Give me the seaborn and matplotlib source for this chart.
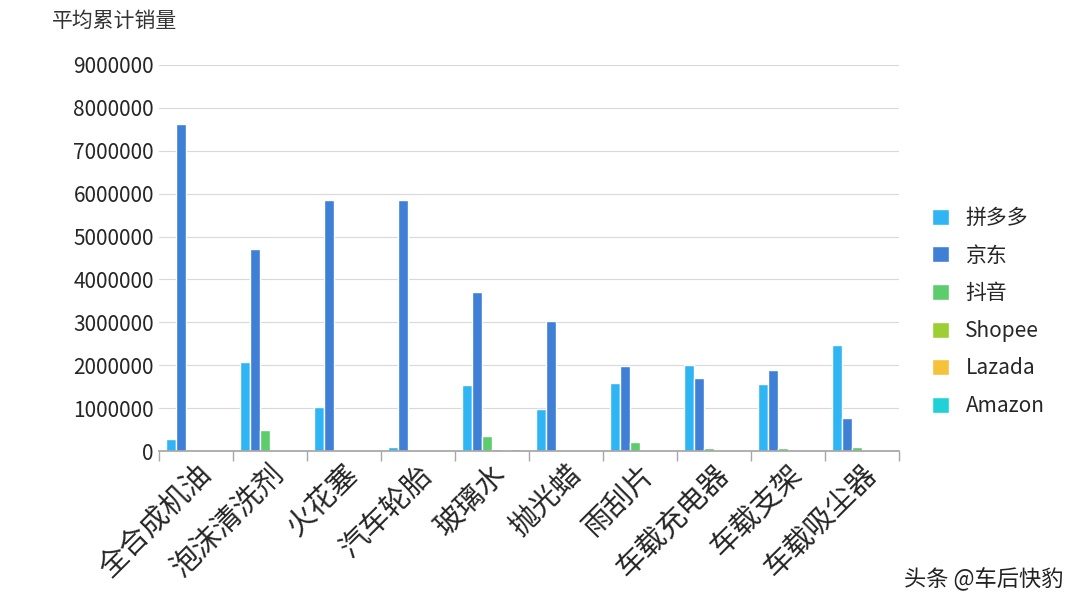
import matplotlib
matplotlib.use("Agg")
import matplotlib.pyplot as plt
import seaborn as sns
import pandas as pd

categories = ["全合成机油","泡沫清洗剂","火花塞","汽车轮胎","玻璃水","抛光蜡","雨刮片","车载充电器","车载支架","车载吸尘器"]
series = ["拼多多","京东","抖音","Shopee","Lazada","Amazon"]
pdd = [270000,2080000,1020000,90000,1550000,980000,1580000,2000000,1560000,2480000]
jd = [7620000,4720000,5860000,5860000,3700000,3030000,1970000,1700000,1890000,760000]
dy = [20000,480000,20000,0,350000,20000,220000,60000,80000,100000]
shopee = [0,0,0,0,40000,0,0,0,0,0]
lazada = [0,0,0,0,0,0,0,0,0,0]
amazon = [10000,0,0,0,50000,0,0,0,20000,0]
colors = ["#2fb5f3","#3f7fd6","#5dcc6c","#9ccf34","#f6c23a","#20d2d6"]

rows = []
for s, vals in zip(series, [pdd, jd, dy, shopee, lazada, amazon]):
    for c, v in zip(categories, vals):
        rows.append({"cat": c, "series": s, "val": v})
df = pd.DataFrame(rows)

sns.set_theme(style="white")
plt.rcParams['font.family'] = ['Noto Sans CJK SC', 'DejaVu Sans']
fig = plt.figure(figsize=(10.8, 6.07), dpi=100)
ax = fig.add_axes([0.147, 0.257, 0.685, 0.636])
sns.barplot(data=df, x="cat", y="val", hue="series", palette=colors, ax=ax,
            width=0.8, saturation=1, legend=True)
ax.set_ylim(0, 9000000)
ax.set_yticks(range(0, 9000001, 1000000))
ax.set_yticklabels([str(v) for v in range(0, 9000001, 1000000)], fontsize=15)
ax.set_xticks(range(len(categories)))
ax.set_xticklabels(categories, rotation=45, ha="right", rotation_mode="anchor", fontsize=21)
ax.set_xlim(-0.5, len(categories)-0.5)
ax.set_xlabel(""); ax.set_ylabel("")
ax.yaxis.grid(True, color="#d9d9d9", lw=0.8)
ax.set_axisbelow(True)
for sp in ["top","right","left"]:
    ax.spines[sp].set_visible(False)
ax.spines["bottom"].set_color("#a6a6a6")
ax.set_xticks([i+0.5 for i in range(-1, len(categories))], minor=True)
ax.tick_params(axis="x", which="major", length=0, pad=6)
ax.tick_params(axis="x", which="minor", length=7, color="#a6a6a6", bottom=True)
ax.tick_params(axis="y", length=0)
leg = ax.legend(loc="center left", bbox_to_anchor=(1.02, 0.36), frameon=False,
                fontsize=15, handlelength=0.8, handleheight=0.8, labelspacing=0.75)
fig.text(0.048, 0.955, "平均累计销量", fontsize=15, color="#333333")
fig.text(0.985, 0.035, "头条 @车后快豹", fontsize=16, color="#222222", ha="right")
fig.savefig("out.png", dpi=100, facecolor="white")
